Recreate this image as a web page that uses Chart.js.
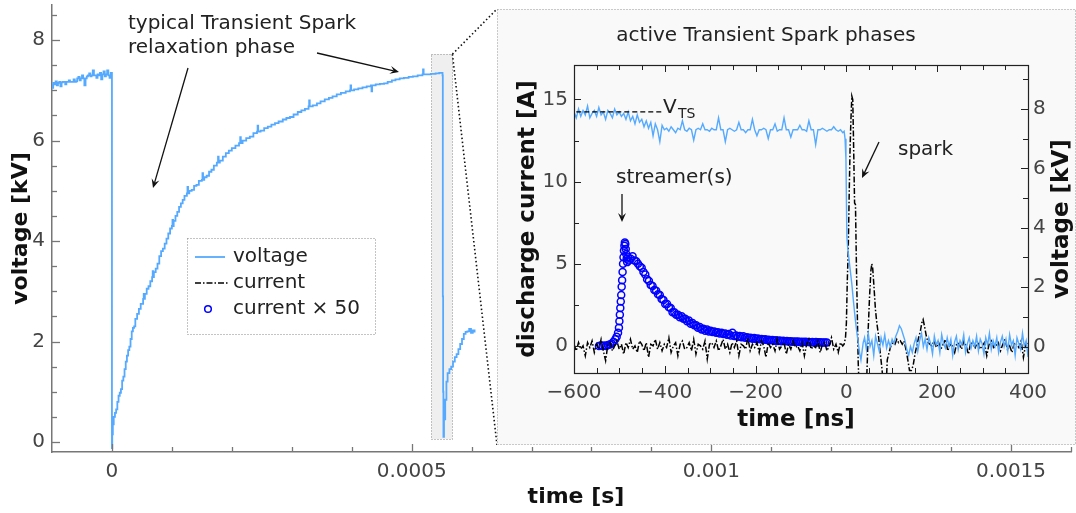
<!DOCTYPE html>
<html>
<head>
<meta charset="utf-8">
<script src="https://cdn.jsdelivr.net/npm/chart.js@4.4.1/dist/chart.umd.min.js"></script>
<style>
  html, body { margin: 0; padding: 0; background: #fff; }
  #wrap { position: relative; width: 1076px; height: 513px; overflow: hidden; }
  #mainChart { position: absolute; left: 0; top: 0; }
  #insetChart { position: absolute; left: 497px; top: 9px; }
</style>
</head>
<body>
<div id="wrap">
  <canvas id="mainChart" width="1076" height="513"></canvas>
  <canvas id="insetChart" width="579" height="436"></canvas>
</div>
<script>
// ---- main panel: voltage over one cycle, [time µs, voltage kV] ----
const mainVoltageTrace = [
  [-100, 7.1], [-99, 7.05], [-98, 7.15], [-96, 7.12], [-94, 7.18], [-92, 7.1], [-90, 7.15], [-88, 7.17],
  [-86, 7.08], [-84, 7.16], [-82, 7.17], [-80, 7.17], [-78, 7.12], [-76, 7.17], [-74, 7.17], [-72, 7.2],
  [-70, 7.17], [-67, 7.17], [-64, 7.22], [-62, 7.17], [-60, 7.18], [-58, 7.24], [-56, 7.27], [-54, 7.2],
  [-52, 7.24], [-50, 7.3], [-48, 7.24], [-46, 7.1], [-44, 7.24], [-42, 7.28], [-40, 7.3], [-38, 7.34],
  [-36, 7.28], [-34, 7.3], [-32, 7.4], [-30, 7.3], [-28, 7.3], [-26, 7.25], [-24, 7.32], [-22, 7.3],
  [-20, 7.35], [-18, 7.22], [-16, 7.32], [-14, 7.38], [-12, 7.28], [-10, 7.32], [-8, 7.4], [-6, 7.3],
  [-4, 7.25], [-2, 7.35], [-0.5, 7.35],
  [0, -0.12], [0.5, 0.15], [1.5, 0.35], [3, 0.5], [5, 0.58], [7, 0.65], [9, 0.8], [11, 0.92], [13, 0.98],
  [15, 1.05], [17, 1.22], [19, 1.3], [21, 1.45], [23, 1.6], [25, 1.72], [27, 1.83], [29, 1.9], [31, 2.05],
  [33, 2.2], [35, 2.27], [37, 2.3], [39, 2.45], [42, 2.55], [45, 2.65], [48, 2.75], [52, 2.85], [53, 2.95],
  [54, 2.85], [55, 2.95], [58, 3.05], [61, 3.1], [64, 3.2], [67, 3.28], [68, 3.4], [69, 3.28], [70, 3.38],
  [73, 3.45], [76, 3.55], [79, 3.7], [82, 3.8], [85, 3.85], [88, 3.95], [91, 4.05], [94, 4.15], [97, 4.25],
  [100, 4.3], [101, 4.42], [102, 4.3], [103, 4.4], [106, 4.5], [109, 4.58], [112, 4.68], [115, 4.75],
  [118, 4.82], [121, 4.9], [125, 4.95], [126, 5.08], [127, 4.95], [129, 5.0], [133, 5.02], [137, 5.1],
  [141, 5.12], [145, 5.2], [150, 5.22], [151, 5.35], [152, 5.22], [154, 5.27], [158, 5.3], [162, 5.38],
  [166, 5.42], [170, 5.5], [175, 5.56], [177, 5.68], [178, 5.56], [180, 5.6], [185, 5.68], [190, 5.75],
  [195, 5.8], [200, 5.85], [206, 5.9], [212, 5.95], [214, 6.07], [215, 5.95], [218, 6.0], [224, 6.05],
  [230, 6.08], [236, 6.15], [242, 6.18], [243, 6.3], [244, 6.18], [248, 6.2], [254, 6.25], [260, 6.28],
  [266, 6.32], [272, 6.35], [278, 6.38], [285, 6.42], [291, 6.45], [297, 6.47], [303, 6.52], [310, 6.57],
  [316, 6.6], [322, 6.63], [328, 6.68], [329, 6.8], [330, 6.68], [335, 6.7], [342, 6.74], [348, 6.78],
  [355, 6.82], [362, 6.85], [368, 6.88], [375, 6.92], [382, 6.95], [390, 6.98], [397, 7.0], [398, 7.1],
  [399, 7.0], [404, 7.02], [411, 7.04], [418, 7.06], [425, 7.08], [432, 7.1], [433, 6.98], [434, 7.1],
  [440, 7.12], [447, 7.13], [454, 7.14], [460, 7.17], [467, 7.2], [473, 7.22], [480, 7.24], [487, 7.25],
  [495, 7.27], [502, 7.28], [510, 7.3], [518, 7.32], [519, 7.42], [520, 7.32], [525, 7.32], [532, 7.33],
  [540, 7.34], [546, 7.35], [551, 7.35],
  [551.5, 7.3], [552, 2.9], [552.5, 1.0], [553, 0.1], [554, 0.45], [556, 0.84], [558, 1.2], [560, 1.37],
  [563, 1.45], [566, 1.5], [569, 1.6], [572, 1.69], [575, 1.75], [578, 1.85], [581, 1.95], [584, 2.05],
  [587, 2.15], [590, 2.19], [593, 2.2], [596, 2.25], [599, 2.17], [602, 2.22], [605, 2.18]
];
const mainXTicks = [0, 0.0005, 0.001, 0.0015];
const mainYTicks = [0, 2, 4, 6, 8];
// region of the trace that the inset zooms into: [t start s, t end s, V low, V high]
const zoomWindow = [533e-6, 568e-6, 0.06, 7.72];

// ---- inset: active phases, time in ns ----
const insetXTicks = [-600, -400, -200, 0, 200, 400];
const currentTicks = [0, 5, 10, 15];
const voltageTicks = [0, 2, 4, 6, 8];
const vtsLevel = 7.9; // kV

// voltage [kV], evenly sampled from -600 to -8 ns
const voltagePre = [
  7.9, 7.7, 8.0, 7.75, 7.95, 7.8, 8.1, 7.7, 7.85, 7.95, 7.75, 8.05, 7.8, 7.9, 7.65, 7.95, 7.85, 7.7, 8.0, 7.8, 7.9,
  7.75, 7.85, 7.65, 7.9, 7.6, 7.75, 7.5, 7.8, 7.55, 7.65, 7.4, 7.6, 7.35, 7.55, 7.1, 7.5, 7.3, 6.9, 7.45, 7.3,
  7.35, 7.25, 7.4, 7.3, 7.2, 7.35, 7.3, 7.6, 7.3, 7.25, 7.35, 7.3, 6.95, 7.3, 7.35, 7.3, 7.5, 7.3, 7.3, 7.25,
  7.35, 7.3, 7.3, 7.7, 7.3, 7.3, 6.9, 7.3, 7.35, 7.3, 7.25, 7.3, 7.55, 7.3, 7.3, 7.2, 7.3, 7.3, 7.65, 7.3,
  7.1, 7.3, 7.3, 7.35, 7.3, 7.0, 7.3, 7.3, 7.5, 7.25, 7.3, 7.3, 7.7, 7.3, 7.3, 7.05, 7.3, 7.3, 7.3, 7.45,
  7.3, 7.3, 7.25, 7.6, 7.3, 7.3, 6.8, 7.3, 7.3, 7.35, 7.3, 7.25, 7.3, 7.3, 7.4, 7.3, 7.25, 7.3, 7.2
];
// voltage collapse during the spark, [ns, kV]
const voltageSpark = [
  [-5, 7.25], [-3, 7.0], [-1, 6.3], [1, 3.7], [3, 3.3], [6, 2.9], [9, 2.5], [12, 2.1], [15, 1.6],
  [19, 1.0], [22, 0.6], [26, 0.13], [29, -0.2], [32, -0.45], [35, -0.1], [37, 0.13]
];
// voltage [kV], evenly sampled from 40 to 400 ns
const voltagePost = [
  0.3, -0.1, 0.45, 0.0, 0.2, -0.3, 0.35, 0.1, -0.15, 0.3, 0.05, 0.4, -0.05, 0.2, 0.0, 0.25, 0.1, 0.35,
  0.5, 0.7, 0.6, 0.4, 0.2, -0.1, -0.3, 0.0, -0.2, 0.1,
  0.3, -0.15, 0.2, 0.45, 0.0, 0.25, -0.1, 0.3, 0.1, -0.25, 0.35, 0.05, 0.2, -0.2, 0.4, 0.1, -0.05, 0.3,
  0.0, 0.25, -0.3, 0.15, 0.35, -0.1, 0.2, 0.05, 0.4, -0.2, 0.1, 0.3, -0.05, 0.2, 0.0, 0.35, -0.15, 0.25,
  0.1, -0.25, 0.3, 0.05, 0.45, -0.1, 0.2, 0.0, 0.3, -0.2, 0.15, 0.35, 0.0, 0.25, -0.15, 0.4, 0.05, 0.2,
  -0.3, 0.3, 0.1, -0.1, 0.45, 0.0, 0.2, -0.35
];

// discharge current [A], evenly sampled from -600 to -8 ns
const currentPre = [
  0.1, -0.3, 0.2, -0.2, 0.0, -0.6, 0.2, -0.1, 0.3, -0.4, 0.1, -0.2, 0.4, -0.3, -0.9, 0.1, 0.2, -0.3, 0.0, 0.3,
  -0.2, 0.1, -0.5, 0.2, -0.1, 0.4, -0.2, 0.0, -0.4, 0.3, 0.1, -0.3, 0.2, -0.7, 0.1, 0.0, 0.4, -0.2, 0.2, -0.3,
  0.1, -0.1, 0.5, -0.4, 0.0, 0.2, -0.6, 0.1, 0.3, -0.2, -0.1, 0.2, -0.3, 0.4, -0.5, 0.1, 0.0, -0.2, 0.3, -0.8,
  0.1, 0.2, -0.1, 0.3, -0.3, 0.0, 0.4, -0.2, 0.1, -0.4, 0.2, -0.1, 0.3, -0.6, 0.1, 0.0, -0.2, 0.5, -0.3, 0.1,
  -0.1, 0.2, -0.4, 0.3, 0.0, -0.7, 0.2, -0.1, 0.1, -0.3, 0.4, -0.2, 0.0, 0.2, -0.5, 0.1, -0.2, 0.3, -0.1, 0.0,
  -0.3, 0.2, -0.6, 0.1, 0.4, -0.2, 0.0, -0.1, 0.3, -0.4, 0.1, 0.2, -0.3, 0.0, 0.5, -0.2, 0.1, -0.4, 0.2, 0.0
];
// spark current pulse and ringing, [ns, A]
const currentSpark = [
  [-5, 0.1], [-2, 0.5], [0, 1.4], [2, 4.0], [4, 5.8], [6, 9.0], [8, 11.9], [10, 13.8], [12, 15.2], [14, 15.0],
  [16, 12.0], [18, 8.7], [20, 8.6], [22, 5.0], [24, 2.0], [26, -1.0], [28, -2.5], [44, -2.5], [46, -1.0],
  [48, 1.0], [51, 3.0], [54, 4.6], [56, 5.0], [58, 4.7], [61, 3.5], [64, 2.2], [67, 1.4], [70, 0.8], [74, -0.3],
  [78, -1.3], [81, -2.2], [88, -2.2], [90, -0.85], [94, -0.4], [98, 0.0], [103, 0.2], [107, 0.1], [111, 0.4],
  [115, 0.2], [119, 0.3], [123, 0.1], [127, 0.3], [131, -0.2], [135, -0.8], [139, -1.5], [143, -1.5],
  [147, -1.2], [151, -0.5], [155, 0.0], [159, 0.5], [163, 0.9], [166, 1.4], [169, 1.6], [172, 1.2],
  [176, 0.6], [180, 0.2], [184, 0.1]
];
// current [A], evenly sampled from 188 to 400 ns
const currentPost = [
  0.0, 0.3, -0.1, 0.2, -0.2, 0.1, 0.4, -0.3, 0.1, 0.0, -0.4, 0.2, 0.1, -0.2, 0.3, 0.0, -0.5, 0.2, 0.1, -0.1,
  0.3, -0.2, 0.0, 0.2, -0.6, 0.1, 0.3, -0.1, 0.0, 0.2, -0.3, 0.1, 0.4, -0.2, 0.0, -0.4, 0.2, 0.1, -0.1, 0.3,
  -0.7, 0.1, 0.2
];

// streamer current x 50 [A]: onset [ns, A], then decay evenly sampled from -475 to -43 ns
const streamerRise = [
  [-545, 0], [-541, 0.02], [-537, 0], [-533, 0.03], [-529, 0], [-525, 0.05], [-521, 0.08], [-517, 0.15],
  [-513, 0.25], [-509, 0.4], [-506, 0.55], [-503, 0.8], [-501, 1.1], [-500, 1.5], [-499, 1.9], [-498, 2.3],
  [-497, 2.7], [-496, 3.1], [-495, 3.6], [-494, 4.0], [-493, 4.5], [-492, 5.0], [-491, 5.4], [-490, 5.8],
  [-489, 6.1], [-488, 6.3], [-487, 6.2], [-486, 5.9], [-485, 5.6], [-484, 5.3], [-483, 5.1], [-481, 5.4],
  [-479, 5.2]
];
const streamerDecay = [
  5.3, 5.45, 5.2, 5.15, 5.0, 4.85, 4.75, 4.5, 4.35, 4.05, 3.95, 3.7, 3.65, 3.4, 3.35, 3.15, 3.1, 2.85,
  2.8, 2.55, 2.55, 2.35, 2.3, 2.05, 2.05, 1.9, 1.9, 1.75, 1.8, 1.65, 1.65, 1.5, 1.55, 1.35, 1.4, 1.25,
  1.25, 1.1, 1.15, 1.0, 1.05, 0.92, 1.0, 0.88, 0.92, 0.85, 0.88, 0.8, 0.83, 0.75, 0.8, 0.72, 0.76, 0.68,
  0.72, 0.64, 0.8, 0.6, 0.64, 0.56, 0.6, 0.53, 0.58, 0.5, 0.53, 0.48, 0.5, 0.44, 0.48, 0.42, 0.45, 0.4,
  0.42, 0.38, 0.4, 0.36, 0.38, 0.34, 0.36, 0.32, 0.35, 0.3, 0.33, 0.29, 0.31, 0.28, 0.3, 0.27, 0.28, 0.26,
  0.27, 0.25, 0.27, 0.24, 0.25, 0.24, 0.26, 0.23, 0.24, 0.22, 0.23, 0.21, 0.23, 0.2, 0.22, 0.2, 0.21, 0.2, 0.2
];

const BLUE = '#55aaff';
const TEXT = '#222';
const TICK_TEXT = '#444';
Chart.defaults.font.family = "'DejaVu Sans', sans-serif";

// place values evenly between two times
function spread(t0, t1, vals) {
  return vals.map((v, i) => ({ x: t0 + (t1 - t0) * i / (vals.length - 1), y: v }));
}
const pairs = list => list.map(p => ({ x: p[0], y: p[1] }));
const minus = v => String(v).replace('-', '\u2212');

// fixed axis box sizes, no extra label padding
function fixWidth(w) {
  return s => { s.width = w; s.paddingTop = 0; s.paddingBottom = 0; };
}
function fixHeight(h) {
  return s => { s.height = h; s.paddingLeft = 0; s.paddingRight = 0; };
}

function line(ctx, x1, y1, x2, y2) {
  ctx.beginPath();
  ctx.moveTo(x1, y1);
  ctx.lineTo(x2, y2);
  ctx.stroke();
}

function text(ctx, str, x, y, opts = {}) {
  const { size = 20, bold = false, align = 'left', color = TEXT, rotate = 0 } = opts;
  ctx.save();
  ctx.font = (bold ? 'bold ' : '') + size + "px 'DejaVu Sans', sans-serif";
  ctx.fillStyle = color;
  ctx.textAlign = align;
  ctx.textBaseline = 'middle';
  ctx.translate(x, y);
  if (rotate) ctx.rotate(rotate);
  ctx.fillText(str, 0, 0);
  ctx.restore();
}

function arrow(ctx, x1, y1, x2, y2) {
  const ang = Math.atan2(y2 - y1, x2 - x1);
  const head = 9, half = 4;
  ctx.save();
  ctx.strokeStyle = '#111';
  ctx.fillStyle = '#111';
  ctx.lineWidth = 1.3;
  line(ctx, x1, y1, x2 - Math.cos(ang) * head * 0.6, y2 - Math.sin(ang) * head * 0.6);
  ctx.beginPath();
  ctx.moveTo(x2, y2);
  ctx.lineTo(x2 - Math.cos(ang) * head + Math.sin(ang) * half, y2 - Math.sin(ang) * head - Math.cos(ang) * half);
  ctx.lineTo(x2 - Math.cos(ang) * head * 0.6, y2 - Math.sin(ang) * head * 0.6);
  ctx.lineTo(x2 - Math.cos(ang) * head - Math.sin(ang) * half, y2 - Math.sin(ang) * head + Math.cos(ang) * half);
  ctx.closePath();
  ctx.fill();
  ctx.restore();
}

// Inset box position on the page
const INSET = { left: 497, top: 9, width: 579, height: 436 };

// Decorations for the main panel
const mainDecor = {
  id: 'mainDecor',
  beforeDatasetsDraw(chart) {
    const { ctx, scales: { x, y } } = chart;
    const x0 = x.getPixelForValue(zoomWindow[0]), x1 = x.getPixelForValue(zoomWindow[1]);
    const y0 = y.getPixelForValue(zoomWindow[3]), y1 = y.getPixelForValue(zoomWindow[2]);
    ctx.save();
    ctx.fillStyle = '#efefef';
    ctx.fillRect(x0, y0, x1 - x0, y1 - y0);
    ctx.strokeStyle = '#888';
    ctx.lineWidth = 1;
    ctx.setLineDash([1, 2]);
    ctx.strokeRect(Math.round(x0) + 0.5, Math.round(y0) + 0.5, Math.round(x1 - x0), Math.round(y1 - y0));
    ctx.restore();
  },
  afterDraw(chart) {
    const { ctx, chartArea: ca, scales: { x, y } } = chart;
    ctx.save();
    // inward ticks
    ctx.strokeStyle = '#777';
    ctx.lineWidth = 1.3;
    for (let k = 0; k <= 17; k++) {
      const py = Math.round(y.getPixelForValue(k * 0.5)) + 0.5;
      line(ctx, ca.left, py, ca.left + (k % 4 === 0 ? 8 : 5), py);
    }
    for (let k = 0; k <= 16; k++) {
      const px = Math.round(x.getPixelForValue(k * 1e-4)) + 0.5;
      line(ctx, px, ca.bottom, px, ca.bottom - (k % 5 === 0 ? 8 : 5));
    }
    ctx.restore();

    // axis titles
    text(ctx, 'voltage [kV]', 21, (ca.top + ca.bottom) / 2, { size: 22, bold: true, align: 'center', rotate: -Math.PI / 2, color: '#111' });
    text(ctx, 'time [s]', 576, 497, { size: 22, bold: true, align: 'center', color: '#111' });

    // annotation
    text(ctx, 'typical Transient Spark', 128, 24);
    text(ctx, 'relaxation phase', 128, 48);
    arrow(ctx, 188, 68, 153, 188);
    arrow(ctx, 317, 53, 399, 72);

    // legend
    ctx.save();
    ctx.fillStyle = '#fff';
    ctx.fillRect(187, 238, 188, 96);
    ctx.strokeStyle = '#888';
    ctx.lineWidth = 1;
    ctx.setLineDash([1, 2]);
    ctx.strokeRect(187.5, 238.5, 188, 96);
    ctx.setLineDash([]);
    ctx.strokeStyle = BLUE;
    ctx.lineWidth = 1.8;
    line(ctx, 195, 257, 225, 257);
    ctx.strokeStyle = '#000';
    ctx.lineWidth = 1.6;
    ctx.setLineDash([6, 2, 1.5, 2]);
    line(ctx, 195, 283, 229, 283);
    ctx.setLineDash([]);
    ctx.strokeStyle = '#0000ff';
    ctx.lineWidth = 1.5;
    ctx.beginPath();
    ctx.arc(208, 309, 3.3, 0, Math.PI * 2);
    ctx.stroke();
    ctx.restore();
    text(ctx, 'voltage', 233, 257);
    text(ctx, 'current', 233, 283);
    text(ctx, 'current \u00d7 50', 233, 309);

    // connectors from the zoom window to the inset box
    const cx = x.getPixelForValue(zoomWindow[1]), cy = y.getPixelForValue(zoomWindow[3]);
    ctx.save();
    ctx.strokeStyle = '#111';
    ctx.lineWidth = 1.6;
    ctx.setLineDash([1.5, 2.5]);
    line(ctx, cx, cy, INSET.left, INSET.top);
    line(ctx, cx, cy, INSET.left, INSET.top + INSET.height);
    ctx.restore();
  }
};

new Chart(document.getElementById('mainChart'), {
  type: 'line',
  data: {
    datasets: [{
      label: 'voltage',
      data: mainVoltageTrace.map(p => ({ x: p[0] * 1e-6, y: p[1] })),
      borderColor: BLUE,
      borderWidth: 1.8,
      pointRadius: 0,
      stepped: true,
      fill: false
    }]
  },
  options: {
    responsive: false,
    animation: false,
    layout: { autoPadding: false, padding: { left: 0, right: 5, top: 5, bottom: 0 } },
    plugins: { legend: { display: false }, tooltip: { enabled: false } },
    scales: {
      x: {
        type: 'linear',
        min: -0.0001,
        max: 0.0016,
        afterBuildTicks: s => { s.ticks = mainXTicks.map(v => ({ value: v })); },
        afterFit: fixHeight(61),
        grid: { display: true, drawOnChartArea: false, drawTicks: false },
        border: { color: '#777', width: 1.5 },
        ticks: { color: TICK_TEXT, font: { size: 20 }, padding: 8, maxRotation: 0, callback: v => String(v) }
      },
      y: {
        type: 'linear',
        min: -0.2,
        max: 8.7,
        afterBuildTicks: s => { s.ticks = mainYTicks.map(v => ({ value: v })); },
        afterFit: fixWidth(52),
        grid: { display: true, drawOnChartArea: false, drawTicks: false },
        border: { color: '#777', width: 1.5 },
        ticks: { color: TICK_TEXT, font: { size: 20 }, padding: 7, callback: v => String(v) }
      }
    }
  },
  plugins: [mainDecor]
});

// Decorations for the inset
const insetDecor = {
  id: 'insetDecor',
  beforeDraw(chart) {
    const { ctx, width, height } = chart;
    ctx.save();
    ctx.fillStyle = '#f9f9f9';
    ctx.fillRect(0, 0, width, height);
    ctx.strokeStyle = '#999';
    ctx.lineWidth = 1;
    ctx.setLineDash([1, 2]);
    ctx.strokeRect(0.5, 0.5, width - 1, height - 1);
    ctx.restore();
  },
  afterDraw(chart) {
    const { ctx, chartArea: ca, scales } = chart;
    const sx = scales.x, sI = scales.yI, sV = scales.yV;
    ctx.save();
    ctx.strokeStyle = '#222';
    ctx.lineWidth = 1.2;
    ctx.strokeRect(Math.round(ca.left) + 0.5, Math.round(ca.top) + 0.5, Math.round(ca.right - ca.left), Math.round(ca.bottom - ca.top));
    ctx.lineWidth = 1;
    for (let t = -600; t <= 400; t += 50) {
      const px = Math.round(sx.getPixelForValue(t)) + 0.5;
      const len = t % 200 === 0 ? 7 : 5;
      line(ctx, px, ca.bottom, px, ca.bottom - len);
      line(ctx, px, ca.top, px, ca.top + len);
    }
    for (let k = 0; k <= 6; k++) {
      const py = Math.round(sI.getPixelForValue(k * 2.5)) + 0.5;
      line(ctx, ca.left, py, ca.left + (k % 2 === 0 ? 7 : 5), py);
    }
    for (let v = 0; v <= 9; v++) {
      const py = Math.round(sV.getPixelForValue(v)) + 0.5;
      line(ctx, ca.right, py, ca.right - (v % 2 === 0 ? 7 : 5), py);
    }
    ctx.restore();

    // titles
    text(ctx, 'active Transient Spark phases', 269, 27, { align: 'center' });
    text(ctx, 'discharge current [A]', 31, (ca.top + ca.bottom) / 2, { size: 23, bold: true, align: 'center', rotate: -Math.PI / 2, color: '#111' });
    text(ctx, 'voltage [kV]', 565, (ca.top + ca.bottom) / 2, { size: 23, bold: true, align: 'center', rotate: -Math.PI / 2, color: '#111' });
    text(ctx, 'time [ns]', 299, 411, { size: 23, bold: true, align: 'center', color: '#111' });

    // annotations
    text(ctx, 'V', 166, 99);
    text(ctx, 'TS', 181, 105, { size: 14 });
    text(ctx, 'streamer(s)', 119, 169);
    arrow(ctx, 125, 185, 125, 213);
    text(ctx, 'spark', 401, 141);
    arrow(ctx, 382, 133, 365, 169);
  }
};

const voltagePts = spread(-600, -8, voltagePre).concat(pairs(voltageSpark), spread(40, 400, voltagePost));
const currentPts = spread(-600, -8, currentPre).concat(pairs(currentSpark), spread(188, 400, currentPost));
const streamerPts = pairs(streamerRise).concat(spread(-475, -43, streamerDecay));

new Chart(document.getElementById('insetChart'), {
  type: 'line',
  data: {
    datasets: [
      {
        label: 'V_TS',
        yAxisID: 'yV',
        data: [{ x: -595, y: vtsLevel }, { x: -406, y: vtsLevel }],
        borderColor: '#000',
        borderWidth: 1.3,
        borderDash: [5, 3],
        pointRadius: 0,
        order: 0
      },
      {
        label: 'voltage',
        yAxisID: 'yV',
        data: voltagePts,
        borderColor: BLUE,
        borderWidth: 1.4,
        pointRadius: 0,
        order: 1
      },
      {
        label: 'current',
        yAxisID: 'yI',
        data: currentPts,
        borderColor: '#000',
        borderWidth: 1.5,
        borderDash: [6, 2, 1.5, 2],
        pointRadius: 0,
        order: 2
      },
      {
        label: 'current \u00d7 50',
        yAxisID: 'yI',
        data: streamerPts,
        showLine: false,
        pointRadius: 3.5,
        pointBorderColor: '#0000ff',
        pointBackgroundColor: 'rgba(0,0,0,0)',
        pointBorderWidth: 1.5,
        order: 3
      }
    ]
  },
  options: {
    responsive: false,
    animation: false,
    layout: { autoPadding: false, padding: { left: 0, right: 0, top: 56, bottom: 0 } },
    plugins: { legend: { display: false }, tooltip: { enabled: false } },
    scales: {
      x: {
        type: 'linear',
        min: -600,
        max: 400,
        afterBuildTicks: s => { s.ticks = insetXTicks.map(v => ({ value: v })); },
        afterFit: fixHeight(72),
        grid: { display: false, drawTicks: false },
        border: { display: false },
        ticks: { color: TICK_TEXT, font: { size: 20 }, padding: 8, maxRotation: 0, callback: minus }
      },
      yI: {
        type: 'linear',
        position: 'left',
        min: -1.65,
        max: 17.1,
        afterBuildTicks: s => { s.ticks = currentTicks.map(v => ({ value: v })); },
        afterFit: fixWidth(77),
        grid: { display: false, drawTicks: false },
        border: { display: false },
        ticks: { color: TICK_TEXT, font: { size: 20 }, padding: 6, callback: minus }
      },
      yV: {
        type: 'linear',
        position: 'right',
        min: -0.89,
        max: 9.48,
        afterBuildTicks: s => { s.ticks = voltageTicks.map(v => ({ value: v })); },
        afterFit: fixWidth(48),
        grid: { display: false, drawTicks: false },
        border: { display: false },
        ticks: { color: TICK_TEXT, font: { size: 20 }, padding: 5, callback: minus }
      }
    }
  },
  plugins: [insetDecor]
});
</script>
</body>
</html>
